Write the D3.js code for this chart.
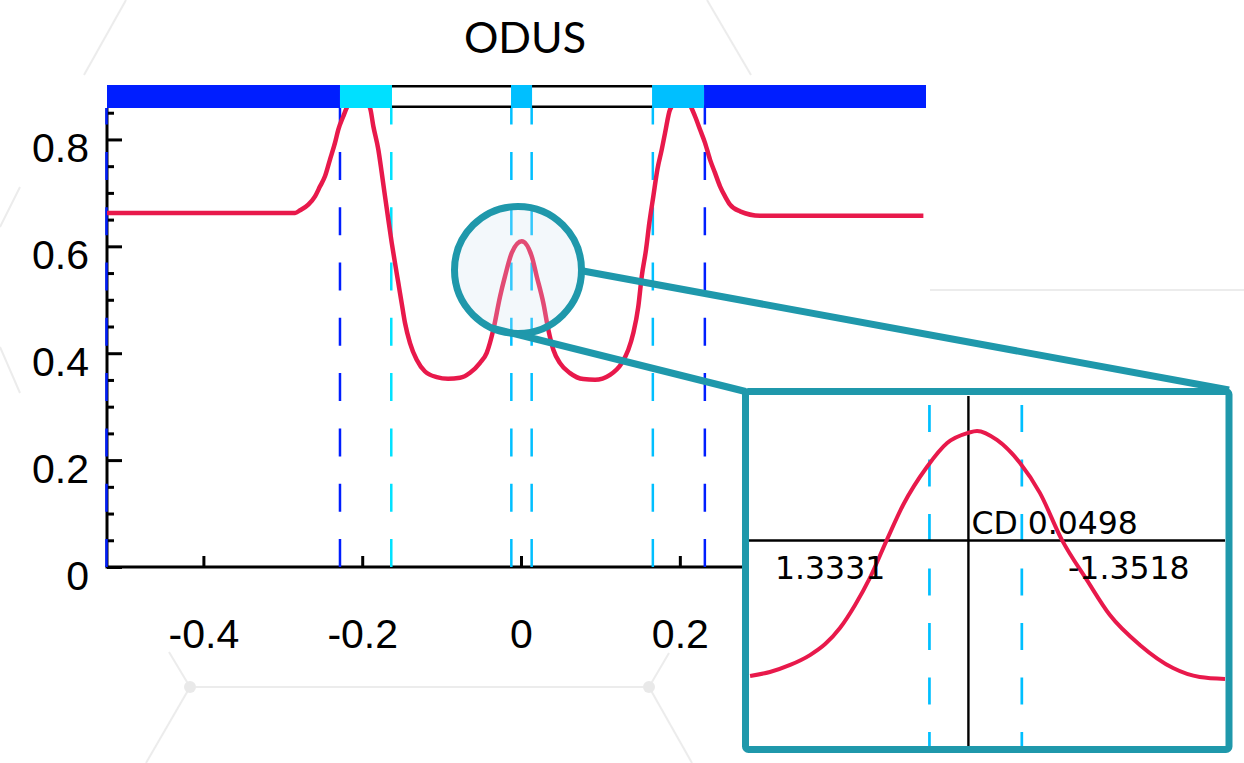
<!DOCTYPE html>
<html>
<head>
<meta charset="utf-8">
<script src="https://cdn.jsdelivr.net/npm/d3@7"></script>
<style>
  html, body { margin: 0; padding: 0; background: #ffffff; }
  svg { display: block; }
</style>
</head>
<body>
<svg id="chart" width="1244" height="763"></svg>
<script>
// ---- data ----
const title = "ODUS";
const xDomain = [-0.5214, 0.51];
const yDomain = [0, 0.9];
const xTicks = [-0.4, -0.2, 0, 0.2, 0.4];
const yTicks = [0, 0.2, 0.4, 0.6, 0.8];
const yMinorTicks = [0.05, 0.1, 0.15, 0.25, 0.3, 0.35, 0.45, 0.5, 0.55, 0.65, 0.7, 0.75, 0.85];

// response curve (x, value)
const curveX = [-0.5214, -0.2846, -0.2783, -0.2679, -0.2594, -0.2531, -0.2469, -0.2406, -0.2343, -0.2301,
  -0.2238, -0.2195, -0.2053, -0.1902, -0.1860, -0.1797, -0.1754, -0.1713, -0.1671, -0.1628,
  -0.1587, -0.1545, -0.1503, -0.1461, -0.1398, -0.1314, -0.1209, -0.1062, -0.0919, -0.0768,
  -0.0642, -0.0516, -0.0432, -0.0349, -0.0264, -0.0202, -0.0117, 0.0009, 0.0135, 0.0198,
  0.0281, 0.0344, 0.0407, 0.0491, 0.0617, 0.0785, 0.0932, 0.1121, 0.1268, 0.1351,
  0.1414, 0.1477, 0.1520, 0.1574, 0.1616, 0.1666, 0.1717, 0.1772, 0.1814, 0.1877,
  0.2034, 0.2191, 0.2254, 0.2317, 0.2380, 0.2443, 0.2506, 0.2569, 0.2632, 0.2758,
  0.3010, 0.5067];
const curveY = [0.6625, 0.6625, 0.6674, 0.6780, 0.6936, 0.7123, 0.7310, 0.7623, 0.7936, 0.8185,
  0.8434, 0.8592, 0.8840, 0.8592, 0.8247, 0.7810, 0.7374, 0.6936, 0.6499, 0.6063,
  0.5688, 0.5314, 0.4939, 0.4565, 0.4190, 0.3877, 0.3658, 0.3553, 0.3521, 0.3540,
  0.3634, 0.3821, 0.4008, 0.4439, 0.5063, 0.5437, 0.5876, 0.6093, 0.5812, 0.5437,
  0.4939, 0.4439, 0.4064, 0.3815, 0.3628, 0.3516, 0.3503, 0.3596, 0.3815, 0.4064,
  0.4377, 0.4875, 0.5437, 0.5937, 0.6438, 0.6936, 0.7436, 0.7810, 0.8123, 0.8560,
  0.8822, 0.8434, 0.8185, 0.7936, 0.7623, 0.7374, 0.7123, 0.6936, 0.6780, 0.6655,
  0.6574, 0.6574];

// threshold markers
const outerMarks = [-0.5214, -0.228, 0.2315];
const innerMarks = [-0.1634, -0.0122, 0.0134, 0.166];

// band segments along the top strip
const bandFrom  = [-0.5214, -0.228, -0.0126, 0.165, 0.2305];
const bandTo    = [-0.228, -0.1625, 0.0139, 0.2305, 0.51];
const bandColor = ["#001eff", "#00e0ff", "#00bfff", "#00bfff", "#001eff"];

// magnified view around the centre peak
const zoomXDomain = [-0.0622, 0.0697];
const zoomYDomain = [0.50, 0.625];
const zoomCurveX = [-0.0619, -0.0564, -0.0508, -0.0453, -0.0411, -0.0370, -0.0328, -0.0287, -0.0240, -0.0195,
  -0.0129, -0.0073, -0.0015, 0.0010, 0.0065, 0.0129, 0.0184, 0.0245, 0.0314, 0.0378,
  0.0461, 0.0553, 0.0627, 0.0697];
const zoomCurveY = [0.5256, 0.5270, 0.5295, 0.5330, 0.5369, 0.5426, 0.5508, 0.5604, 0.5739, 0.5863,
  0.5998, 0.6083, 0.6119, 0.6126, 0.6094, 0.6012, 0.5906, 0.5739, 0.5597, 0.5472,
  0.5366, 0.5284, 0.5252, 0.5245];
const zoomMarks = [-0.0122, 0.0134];
const cursorX = -0.0014;
const cursorY = 0.5737;
const cursorLabel = "CD 0.0498";
const leftReadout = "1.3331";
const rightReadout = "-1.3518";

// ---- drawing ----
const svg = d3.select("#chart");
const RED = "#e8194b", TEAL = "#1f98ab", DARK = "#001eff", CYAN = "#00bfff";
const fmt = d => d3.format("~g")(d).replace("\u2212", "-");

// faint backdrop network
const bg = svg.append("g").attr("stroke", "#ececec").attr("stroke-width", 2).attr("fill", "none");
[[126, 0, 84, 75], [707, 0, 751, 75], [20, 187, 0, 227], [0, 347, 20, 393], [930, 290, 1244, 290],
 [169, 652, 190, 687], [190, 687, 649, 687], [649, 687, 669, 653], [190, 687, 146, 763], [649, 687, 692, 763]]
  .forEach(s => bg.append("line").attr("x1", s[0]).attr("y1", s[1]).attr("x2", s[2]).attr("y2", s[3]));
[[190, 687], [649, 687]].forEach(p =>
  svg.append("circle").attr("cx", p[0]).attr("cy", p[1]).attr("r", 6).attr("fill", "#e9e9e9"));

const x = d3.scaleLinear().domain(xDomain).range([107, 926]);
const y = d3.scaleLinear().domain(yDomain).range([567, 86]);
const plotTop = y(yDomain[1]);
const stripTop = plotTop - 1, stripBottom = plotTop + 22;

// title
svg.append("text").attr("x", 525).attr("y", 53).attr("text-anchor", "middle")
  .attr("font-family", "Lato, 'Open Sans', sans-serif").attr("font-size", 43).attr("fill", "#000")
  .text(title);

// dashed marker lines
function dashed(g, xs, color, x0) {
  g.selectAll(null).data(xs).enter().append("line")
    .attr("x1", d => x(d) + (x0 || 0)).attr("x2", d => x(d) + (x0 || 0))
    .attr("y1", y(0)).attr("y2", stripBottom)
    .attr("stroke", color).attr("stroke-width", 2.5)
    .attr("stroke-dasharray", "28,27.3");
}

// axes
const yAxis = d3.axisLeft(y).tickValues(yTicks).tickSize(-15).tickSizeOuter(0).tickPadding(18)
  .tickFormat(fmt);
const yMinor = d3.axisLeft(y).tickValues(yMinorTicks).tickSize(-7).tickSizeOuter(0).tickFormat("");
const xAxis = d3.axisBottom(x).tickValues(xTicks).tickSize(-11).tickSizeOuter(0).tickPadding(52)
  .tickFormat(fmt);

const gx = svg.append("g").attr("transform", `translate(0,${y(0)})`).call(xAxis);
const gy = svg.append("g").attr("transform", `translate(${x(xDomain[0])},0)`).call(yAxis);
const gym = svg.append("g").attr("transform", `translate(${x(xDomain[0])},0)`).call(yMinor);
gym.select(".domain").remove();
[gx, gy, gym].forEach(g => {
  g.select(".domain").attr("stroke", "#000").attr("stroke-width", 3);
  g.selectAll(".tick line").attr("stroke", "#000").attr("stroke-width", 3);
  g.selectAll("text").attr("font-family", "'Liberation Sans', Arial, sans-serif")
    .attr("font-size", 41).attr("fill", "#000");
});
gy.select(".domain").attr("d", `M0,${y(0)}V${stripBottom}`);
gy.selectAll("text").attr("dy", "0.54em");
gx.selectAll("text").attr("dy", "0.7em");
gx.select(".domain").attr("d", `M${x(xDomain[0]) - 1.5},0H${x(xDomain[1])}`);

const marks = svg.append("g");
dashed(marks, innerMarks.slice(0, 1), "#00e2ff");
dashed(marks, innerMarks.slice(1), CYAN);
dashed(marks, outerMarks.slice(1), DARK);
dashed(marks, outerMarks.slice(0, 1), DARK, -0.5);

// curve
const line = d3.line().x((d, i) => x(curveX[i])).y(d => y(d)).curve(d3.curveMonotoneX);
svg.append("path").attr("d", line(curveY)).attr("fill", "none")
  .attr("stroke", RED).attr("stroke-width", 4.5).attr("stroke-linejoin", "round");

// top strip
svg.append("line").attr("x1", x(xDomain[0])).attr("x2", x(xDomain[1]))
  .attr("y1", stripTop + 1.2).attr("y2", stripTop + 1.2).attr("stroke", "#000").attr("stroke-width", 2.5);
svg.append("line").attr("x1", x(xDomain[0])).attr("x2", x(xDomain[1]))
  .attr("y1", stripBottom - 1.3).attr("y2", stripBottom - 1.3).attr("stroke", "#000").attr("stroke-width", 2.5);
svg.selectAll(null).data(bandFrom).enter().append("rect")
  .attr("x", (d) => x(d)).attr("width", (d, i) => x(bandTo[i]) - x(d))
  .attr("y", stripTop).attr("height", stripBottom - stripTop)
  .attr("fill", (d, i) => bandColor[i]);

// magnifier lens
const lens = { cx: 518, cy: 270, r: 63.5 };
svg.append("circle").attr("cx", lens.cx).attr("cy", lens.cy).attr("r", lens.r)
  .attr("fill", "#cfe5ee").attr("fill-opacity", 0.25)
  .attr("stroke", TEAL).attr("stroke-width", 7);

// inset panel
const inset = { x0: 745.5, x1: 1229, y0: 391.5, y1: 749.5 };
svg.append("line").attr("x1", 583).attr("y1", 271).attr("x2", inset.x1).attr("y2", inset.y0 - 1.5)
  .attr("stroke", TEAL).attr("stroke-width", 7);
svg.append("line").attr("x1", 493).attr("y1", 328.4).attr("x2", inset.x0).attr("y2", inset.y0)
  .attr("stroke", TEAL).attr("stroke-width", 7);
svg.append("rect").attr("x", inset.x0).attr("y", inset.y0)
  .attr("width", inset.x1 - inset.x0).attr("height", inset.y1 - inset.y0)
  .attr("fill", "#fff");

const zx = d3.scaleLinear().domain(zoomXDomain).range([749, 1225]);
const zy = d3.scaleLinear().domain(zoomYDomain).range([748, 396]);
const ig = svg.append("g");
ig.selectAll(null).data(zoomMarks).enter().append("line")
  .attr("x1", d => zx(d)).attr("x2", d => zx(d)).attr("y1", 396).attr("y2", 748)
  .attr("stroke", CYAN).attr("stroke-width", 2.7)
  .attr("stroke-dasharray", "27,27.5").attr("stroke-dashoffset", 45.5);
ig.append("line").attr("x1", zx(cursorX)).attr("x2", zx(cursorX)).attr("y1", 396).attr("y2", 748)
  .attr("stroke", "#000").attr("stroke-width", 2.4);
ig.append("line").attr("x1", 749).attr("x2", 1225).attr("y1", zy(cursorY)).attr("y2", zy(cursorY))
  .attr("stroke", "#000").attr("stroke-width", 2.4);
const zline = d3.line().x((d, i) => zx(zoomCurveX[i])).y(d => zy(d)).curve(d3.curveMonotoneX);
ig.append("path").attr("d", zline(zoomCurveY)).attr("fill", "none")
  .attr("stroke", RED).attr("stroke-width", 4).attr("stroke-linejoin", "round");

const tf = "'DejaVu Sans', Verdana, sans-serif";
ig.append("text").attr("x", zx(cursorX) + 3).attr("y", zy(cursorY) - 6)
  .attr("font-family", tf).attr("font-size", 31.5).attr("fill", "#000").text(cursorLabel);
ig.append("text").attr("x", 775).attr("y", zy(cursorY) + 38.5)
  .attr("font-family", tf).attr("font-size", 31.5).attr("fill", "#000").text(leftReadout);
ig.append("text").attr("x", 1068).attr("y", zy(cursorY) + 38.5)
  .attr("font-family", tf).attr("font-size", 31.5).attr("fill", "#000").text(rightReadout);

svg.append("rect").attr("x", inset.x0).attr("y", inset.y0)
  .attr("width", inset.x1 - inset.x0).attr("height", inset.y1 - inset.y0)
  .attr("rx", 3).attr("fill", "none").attr("stroke", TEAL).attr("stroke-width", 7);
</script>
</body>
</html>
